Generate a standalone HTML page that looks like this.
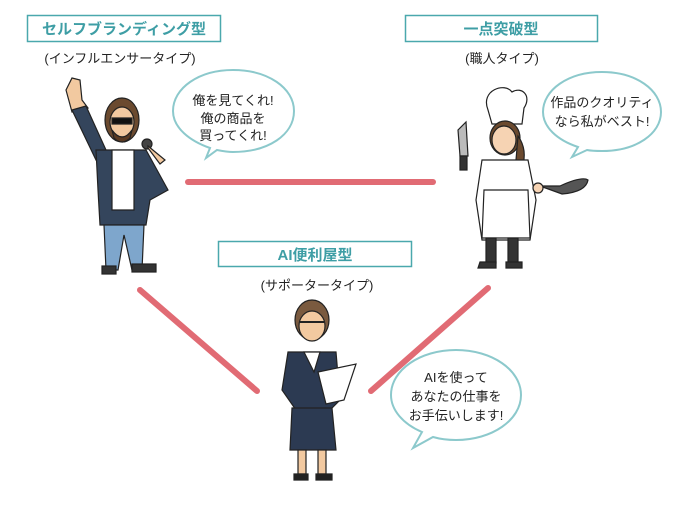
<!DOCTYPE html>
<html><head><meta charset="utf-8"><style>
html,body{margin:0;padding:0;background:#fff;}
svg{display:block;}
text{font-family:"Liberation Sans","Noto Sans CJK JP",sans-serif;}
</style></head><body>
<svg width="681" height="510" viewBox="0 0 681 510" xmlns="http://www.w3.org/2000/svg">
<rect width="681" height="510" fill="#fff"/>
<!-- red lines -->
<g stroke="#e16b74" stroke-width="6" stroke-linecap="round">
<line x1="188" y1="182" x2="433" y2="182"/>
<line x1="140" y1="290" x2="257" y2="391"/>
<line x1="488" y1="288" x2="371" y2="391"/>
</g>
<!-- label boxes -->
<g fill="#fff" stroke="#4aa8ad" stroke-width="1.5">
<rect x="27.5" y="15.5" width="193" height="26"/>
<rect x="405.5" y="15.5" width="192" height="26"/>
<rect x="218.5" y="241.5" width="193" height="25"/>
</g>
<g fill="#3e9ea5" font-size="15" text-anchor="middle" font-weight="bold">
<text x="124" y="34">セルフブランディング型</text>
<text x="501" y="34">一点突破型</text>
<text x="315" y="260">AI便利屋型</text>
</g>
<g fill="#222" font-size="13" text-anchor="middle">
<text x="120" y="63">(インフルエンサータイプ)</text>
<text x="502" y="63">(職人タイプ)</text>
<text x="317" y="290">(サポータータイプ)</text>
</g>
<!-- bubbles -->
<g fill="#fff" stroke="#8cc9cc" stroke-width="2">
<path d="M233,70 C268,70 294,88 294,111 C294,135 268,152 233,152 C228,152 222,151 217,150 L206,158 L210,148 C190,141 173,128 173,111 C173,88 199,70 233,70 Z"/>
<path d="M602,72 C636,72 661,90 661,112 C661,134 636,151 602,151 C597,151 592,151 587,150 L572,157 L578,147 C557,140 543,127 543,112 C543,90 568,72 602,72 Z"/>
<path d="M456,350 C492,350 521,370 521,395 C521,420 492,440 456,440 C448,440 440,439 433,437 L413,448 L422,432 C403,424 391,410 391,395 C391,370 420,350 456,350 Z"/>
</g>
<g fill="#222" font-size="13" text-anchor="middle">
<text x="233" y="105">俺を見てくれ!</text>
<text x="233" y="123">俺の商品を</text>
<text x="233" y="140">買ってくれ!</text>
<text x="602" y="107">作品のクオリティ</text>
<text x="602" y="126">なら私がベスト!</text>
<text x="456" y="382">AIを使って</text>
<text x="456" y="401">あなたの仕事を</text>
<text x="456" y="420">お手伝いします!</text>
</g>
<!-- influencer -->
<g stroke="#222" stroke-width="1.2">
<path d="M66,90 L72,78 L80,80 L82,100 L88,108 L72,112 Z" fill="#f2c9a0"/>
<path d="M72,110 L86,106 L106,150 L96,160 Z" fill="#34455c"/>
<ellipse cx="122" cy="120" rx="17" ry="22" fill="#6b4a2f"/>
<ellipse cx="122" cy="122" rx="12" ry="15" fill="#f2c9a0"/>
<path d="M112,118 h20 v6 h-20 z" fill="#111"/>
<path d="M112,130 Q122,144 132,130 L130,138 Q122,146 114,138 Z" fill="#5a3a22"/>
<path d="M96,150 L146,150 L168,190 L150,200 L146,225 L100,225 L98,190 Z" fill="#34455c"/>
<path d="M112,150 L134,150 L134,210 L112,210 Z" fill="#fff"/>
<path d="M104,225 L144,225 L142,270 L132,270 L124,235 L118,270 L106,270 Z" fill="#7ea6cc"/>
<rect x="102" y="266" width="14" height="8" fill="#333"/>
<rect x="132" y="264" width="24" height="8" fill="#333"/>
<circle cx="147" cy="144" r="5" fill="#444"/>
<path d="M148,146 L165,160 L160,164 L148,148 Z" fill="#f2c9a0"/>
</g>
<!-- chef -->
<g stroke="#222" stroke-width="1.2">
<path d="M488,110 C480,90 505,82 512,92 C522,86 532,96 524,108 L522,124 L492,124 Z" fill="#fff"/>
<ellipse cx="505" cy="138" rx="15" ry="17" fill="#6b4a2f"/>
<ellipse cx="504" cy="140" rx="12" ry="14" fill="#f6d3b3"/>
<path d="M518,136 Q528,150 522,168 L516,160 Z" fill="#6b4a2f"/>
<path d="M482,160 L528,160 L536,200 L530,240 L482,240 L476,200 Z" fill="#fff"/>
<path d="M484,190 L528,190 L530,238 L482,238 Z" fill="#fff"/>
<rect x="486" y="238" width="10" height="25" fill="#333"/>
<rect x="508" y="238" width="10" height="25" fill="#333"/>
<path d="M480,262 h16 v6 h-18 z M506,262 h16 v6 h-16 z" fill="#333"/>
<path d="M458,130 L466,122 L468,156 L460,156 Z" fill="#bbb"/>
<rect x="460" y="156" width="7" height="14" fill="#333"/>
<path d="M540,186 L560,186 Q582,176 588,180 Q586,192 562,194 Z" fill="#555"/>
<circle cx="538" cy="188" r="5" fill="#f6d3b3"/>
</g>
<!-- supporter -->
<g stroke="#222" stroke-width="1.2">
<ellipse cx="312" cy="320" rx="17" ry="20" fill="#7a5a3f"/>
<ellipse cx="312" cy="326" rx="13" ry="15" fill="#f2c9a0"/>
<path d="M300,322 h24" stroke="#222" stroke-width="2"/>
<path d="M288,352 L336,352 L340,400 L330,410 L296,410 L282,390 Z" fill="#2c3a52"/>
<path d="M304,352 L320,352 L314,372 Z" fill="#fff"/>
<path d="M292,408 L332,408 L336,450 L290,450 Z" fill="#2c3a52"/>
<rect x="298" y="450" width="8" height="24" fill="#f2c9a0"/>
<rect x="318" y="450" width="8" height="24" fill="#f2c9a0"/>
<path d="M294,474 h14 v6 h-14 z M316,474 h16 v6 h-16 z" fill="#222"/>
<path d="M318,372 L356,364 L344,400 L326,404 Z" fill="#fff"/>
</g>
</svg>
</body></html>
